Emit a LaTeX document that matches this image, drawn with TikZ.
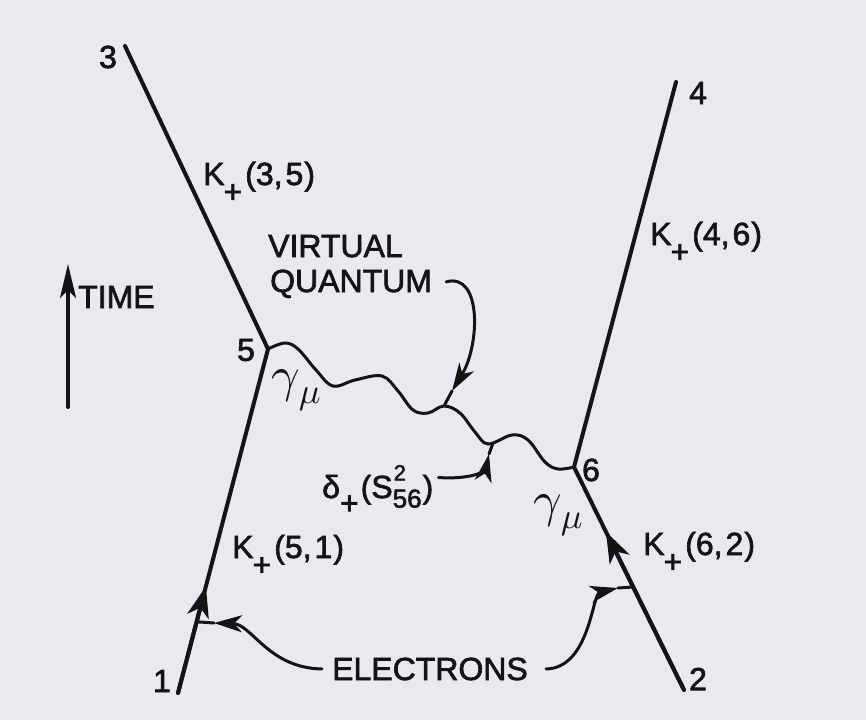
\documentclass[tikz,border=0pt]{standalone}
\usepackage{fontspec}
\setmainfont{Liberation Sans}[FakeBold=2]
\usetikzlibrary{arrows.meta, calc}

\definecolor{paper}{RGB}{233,234,238}
\definecolor{ink}{RGB}{20,20,22}

\newcommand{\Kplus}[2]{K\kern-1pt\raisebox{-0.55em}{+}\kern3pt(#1,\kern3pt#2\kern1pt)}
\newcommand{\gmu}{\scalebox{5}{\normalsize$\gamma$}\kern-1pt\raisebox{-12pt}{\scalebox{3.6}{\normalsize$\mu$}}}

\begin{document}
\begin{tikzpicture}[
  x=1pt, y=-1pt,
  every node/.style={font=\fontsize{32}{38}\selectfont, inner sep=0pt, text=ink},
  fermion/.style={draw=ink, line width=4pt, line cap=round},
  photon/.style={draw=ink, line width=3pt, line cap=round},
  pointer/.style={draw=ink, line width=3pt, line cap=round},
  fermtip/.style={-{Stealth[length=31pt,width=22pt,inset=9pt]}},
  ptip/.style={-{Stealth[length=28pt,width=17pt,inset=8pt]}}
]

\fill[paper] (0,0) rectangle (866,720);

\coordinate (e3) at (125,46);
\coordinate (v5) at (268,349);
\coordinate (e1) at (178,693);
\coordinate (e4) at (676,82);
\coordinate (v6) at (574,467);
\coordinate (e2) at (684,690);
\coordinate (f1) at ($(e1)!0.31!(v5)$);
\coordinate (f2) at ($(e2)!0.71!(v6)$);

\draw[fermion] (e3) -- (v5);
\draw[fermion] (e1) -- (v5);
\draw[fermion, fermtip] (e1) -- (f1);
\draw[fermion] (e4) -- (v6);
\draw[fermion] (e2) -- (v6);
\draw[fermion, fermtip] (e2) -- (f2);

\draw[photon] plot[smooth, tension=0.6] coordinates {(v5) (285,343) (298,349)
  (316,370) (333,386) (355,380) (382,376) (398,391) (413,410) (428,413)
  (444,406) (460,413) (475,432) (488,444) (512,435) (528,440) (545,462)
  (558,469) (v6)};

\node (n3) at (108,57) {3};
\node (n4) at (698,93) {4};
\node (n5) at (246,350) {5};
\node (n6) at (591,470) {6};
\node (n1) at (162,681) {1};
\node (n2) at (698,679) {2};

\node[anchor=base west] (k35) at (203,185) {\Kplus{3}{5}};
\node[anchor=base west] (k46) at (650,245) {\Kplus{4}{6}};
\node[anchor=base west] (k51) at (232,558) {\Kplus{5}{1}};
\node[anchor=base west] (k62) at (643,555) {\Kplus{6}{2}};

\node (g5) at (296,390) {\gmu};
\node (g6) at (558,515) {\gmu};

\coordinate (t0) at (68,407);
\coordinate (t1) at (68,264);
\draw[pointer, line width=4pt, -{Stealth[length=34pt,width=16pt,inset=8pt]}] (t0) -- (t1);
\node[anchor=base west] (time) at (78,308) {TIME};

\node[anchor=base west] (virt) at (268,257) {VIRTUAL};
\node[anchor=base west] (quant) at (270,292) {QUANTUM};
\coordinate (vq) at (444,406);
\coordinate (a3) at (452,391);
\draw[pointer, ptip] ($(quant.east)+(14,-2)$) .. controls (482,272) and (480,345) .. (a3);
\draw[pointer] (a3) -- (vq);

\node[anchor=base west] (delta) at (322,498)
  {δ\raisebox{-0.5em}{+}\kern2pt(S\rlap{\raisebox{0.55em}{\fontsize{22}{22}\selectfont\kern1pt 2}}\raisebox{-0.3em}{\fontsize{26}{26}\selectfont 56}\kern1pt)};
\coordinate (dq) at (493,443);
\coordinate (a4) at (489,454);
\draw[pointer, ptip] ($(delta.east)+(5,-12)$) .. controls (478,480) and (486,468) .. (a4);
\draw[pointer] (a4) -- (dq);

\node[anchor=base west] (elec) at (332,680) {ELECTRONS};
\coordinate (h1) at ($(e1)!0.207!(v5)$);
\coordinate (h2) at ($(e2)!0.462!(v6)$);
\coordinate (a1) at (214,623);
\coordinate (a2) at (618,588);
\draw[pointer, ptip] ($(elec.west)+(-10,0)$) .. controls (268,668) and (252,624) .. (a1);
\draw[pointer] (a1) -- (h1);
\draw[pointer, ptip] ($(elec.east)+(18,0)$) .. controls (590,668) and (592,594) .. (a2);
\draw[pointer] (a2) -- (h2);

\end{tikzpicture}
\end{document}
